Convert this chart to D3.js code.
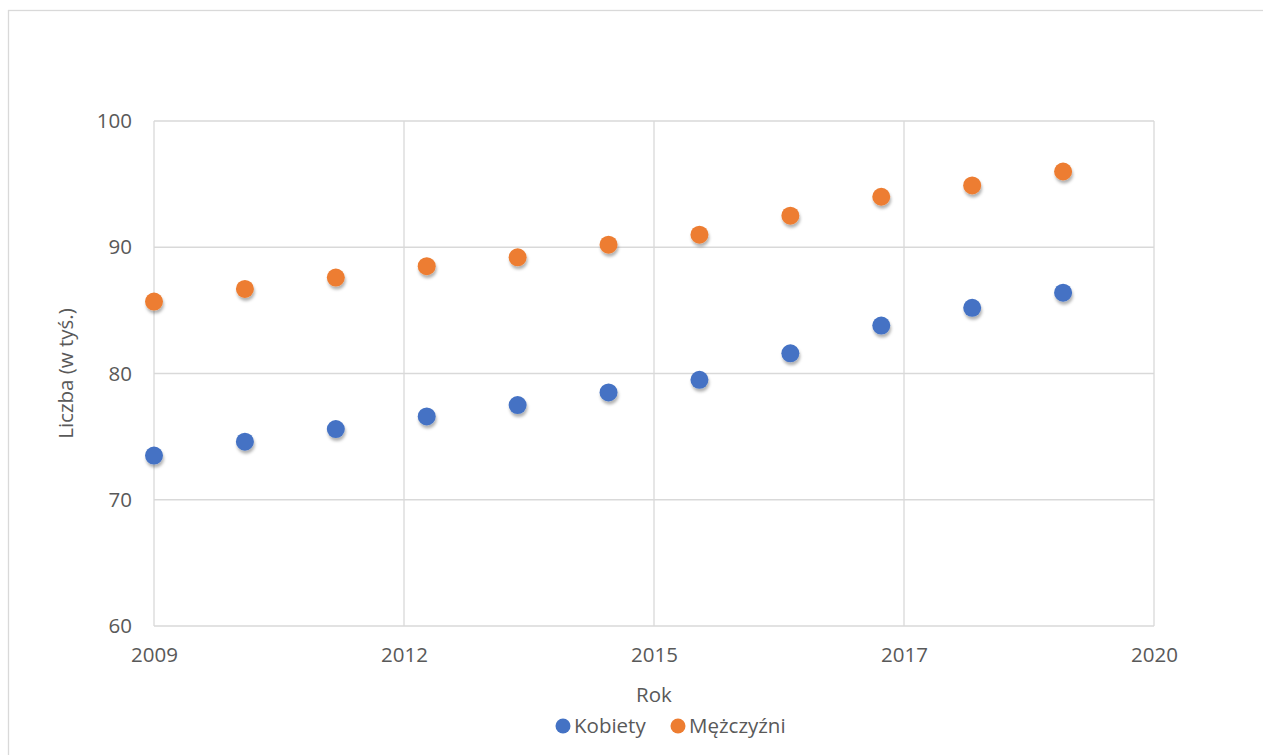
<!DOCTYPE html>
<html>
<head>
<meta charset="utf-8">
<script src="https://cdn.jsdelivr.net/npm/d3@7"></script>
<style>
    body { margin: 0; background: #fff; }
    svg { display: block; }
    .axis text { font-family: "Open Sans", "Noto Sans", sans-serif; fill: #595959; }
    .axis path, .axis line { stroke: none; }
    .grid line { stroke: #d9d9d9; stroke-width: 1.3; }
</style>
</head>
<body>
<div id="chart"></div>
<script>
var years = [2009, 2010, 2011, 2012, 2013, 2014, 2015, 2016, 2017, 2018, 2019];
var kobiety = [73.5, 74.6, 75.6, 76.6, 77.5, 78.5, 79.5, 81.6, 83.8, 85.2, 86.4];
var mezczyzni = [85.7, 86.7, 87.6, 88.5, 89.2, 90.2, 91.0, 92.5, 94.0, 94.9, 96.0];
var seriesNames = ['Kobiety', 'Mężczyźni'];
var seriesColors = ['#4472c4', '#ed7d31'];
var xTicks = [2009, 2011.75, 2014.5, 2017.25, 2020];
var yTicks = [60, 70, 80, 90, 100];

(function() {
    var W = 1263, H = 755,
        mLeft = 154, mTop = 121, width = 1000, height = 505,
        fontsize = 20.5,
        font = '"Open Sans", "Noto Sans", sans-serif';

    var svg = d3.select('#chart').append('svg')
        .attr('width', W)
        .attr('height', H);

    var shadow = svg.append('defs').append('filter')
        .attr('id', 'shadow')
        .attr('x', '-50%').attr('y', '-50%')
        .attr('width', '200%').attr('height', '200%');
    shadow.append('feDropShadow')
        .attr('dx', 1)
        .attr('dy', 3)
        .attr('stdDeviation', 1.8)
        .attr('flood-color', '#000')
        .attr('flood-opacity', 0.3);

    // outer chart frame
    svg.append('rect')
        .attr('x', 8.5)
        .attr('y', 10.5)
        .attr('width', W)
        .attr('height', H)
        .attr('fill', 'none')
        .attr('stroke', '#d9d9d9')
        .attr('stroke-width', 1.3);

    var chart = svg.append('g')
        .attr('transform', 'translate(' + mLeft + ',' + mTop + ')');

    var xScale = d3.scaleLinear().domain([2009, 2020]).range([0, width]),
        yScale = d3.scaleLinear().domain([60, 100]).range([height, 0]);

    // gridlines
    var grid = chart.append('g').attr('class', 'grid');
    grid.selectAll('.hy')
        .data(yTicks)
        .enter()
        .append('line')
        .attr('x1', 0)
        .attr('x2', width)
        .attr('y1', function(d) { return yScale(d); })
        .attr('y2', function(d) { return yScale(d); });
    grid.selectAll('.vx')
        .data(xTicks)
        .enter()
        .append('line')
        .attr('y1', 0)
        .attr('y2', height)
        .attr('x1', function(d) { return xScale(d); })
        .attr('x2', function(d) { return xScale(d); });

    var xAxis = d3.axisBottom(xScale)
            .tickValues(xTicks)
            .tickFormat(function(d) { return Math.round(d); })
            .tickSize(0)
            .tickPadding(21),
        yAxis = d3.axisLeft(yScale)
            .tickValues(yTicks)
            .tickSize(0)
            .tickPadding(22);

    chart.append('g')
        .attr('class', 'x axis')
        .attr('transform', 'translate(0,' + height + ')')
        .call(xAxis)
        .selectAll('text')
        .style('font-size', fontsize + 'px');

    chart.append('g')
        .attr('class', 'y axis')
        .call(yAxis)
        .selectAll('text')
        .style('font-size', fontsize + 'px');

    // points
    [kobiety, mezczyzni].forEach(function(values, s) {
        chart.append('g')
            .selectAll('circle')
            .data(values)
            .enter()
            .append('circle')
            .attr('cx', function(d, i) { return xScale(years[i]); })
            .attr('cy', function(d) { return yScale(d); })
            .attr('r', 9)
            .attr('fill', seriesColors[s])
            .attr('filter', 'url(#shadow)');
    });

    // axis titles
    svg.append('text')
        .attr('x', mLeft + width / 2)
        .attr('y', 702)
        .attr('text-anchor', 'middle')
        .style('font-family', font)
        .style('font-size', fontsize + 'px')
        .style('fill', '#595959')
        .text('Rok');

    svg.append('text')
        .attr('transform', 'translate(73,' + (mTop + height / 2) + ') rotate(-90)')
        .attr('text-anchor', 'middle')
        .style('font-family', font)
        .style('font-size', fontsize + 'px')
        .style('fill', '#595959')
        .text('Liczba (w tyś.)');

    // legend
    var legendX = [563, 678];
    var legend = svg.append('g').selectAll('.legend')
        .data(seriesNames)
        .enter()
        .append('g')
        .attr('class', 'legend')
        .attr('transform', function(d, i) { return 'translate(' + legendX[i] + ',726)'; });

    legend.append('circle')
        .attr('r', 7.5)
        .attr('fill', function(d, i) { return seriesColors[i]; });

    legend.append('text')
        .attr('x', 11)
        .attr('dy', '.35em')
        .style('font-family', font)
        .style('font-size', fontsize + 'px')
        .style('fill', '#595959')
        .text(function(d) { return d; });
})();
</script>
</body>
</html>
